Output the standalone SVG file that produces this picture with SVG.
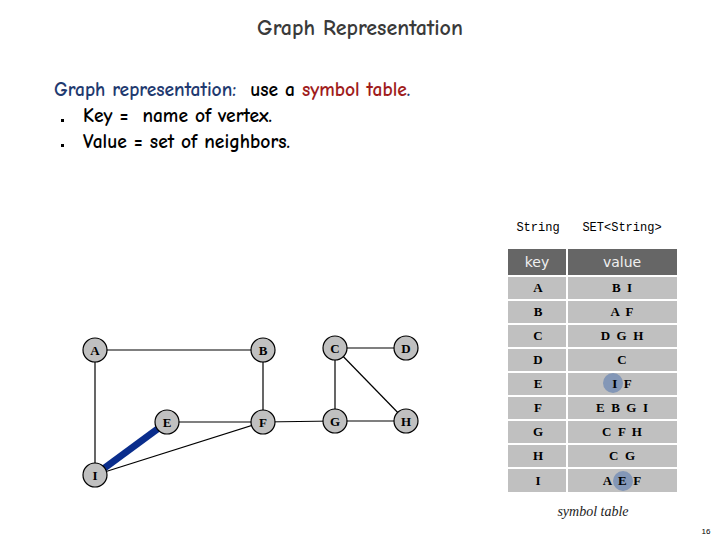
<svg xmlns="http://www.w3.org/2000/svg" width="720" height="540" viewBox="0 0 720 540">
<defs>
<style>
.hand{font-family:"Comic Neue","DejaVu Sans","Liberation Sans",sans-serif}
.node circle{fill:#c0c0c0;stroke:#000;stroke-width:1.2}
.node text{font-family:"Liberation Serif","DejaVu Serif",serif;font-weight:bold;font-size:13px;text-anchor:middle;fill:#000}
.edge{stroke:#000;stroke-width:1.2;fill:none}
.cell{fill:#c0c0c0}
.hdr{fill:#666666}
.tt{font-family:"Liberation Serif","DejaVu Serif",serif;font-weight:bold;font-size:13px;text-anchor:middle;fill:#000}
.th{font-family:"DejaVu Sans","Liberation Sans",sans-serif;font-size:14px;text-anchor:middle;fill:#f0f0f0}
.hl{fill:#5a7bb0;fill-opacity:0.6}
</style>
</defs>
<rect width="720" height="540" fill="#fff"/>
<text class="hand" x="360" y="35" text-anchor="middle" font-size="22" font-weight="bold" fill="#3a3a3a">Graph Representation</text>
<text class="hand" x="54" y="96" font-size="19.5" font-weight="bold" xml:space="preserve"><tspan fill="#1f3a70">Graph representation:</tspan><tspan fill="#000">  use a </tspan><tspan fill="#a01c1c">symbol table</tspan><tspan fill="#1f3a70">.</tspan></text>
<rect x="61" y="119" width="3" height="3" fill="#000"/>
<text class="hand" x="83" y="122" font-size="19.5" font-weight="bold" fill="#000" xml:space="preserve">Key =  name of vertex.</text>
<rect x="61" y="144" width="3" height="3" fill="#000"/>
<text class="hand" x="83" y="148" font-size="19.5" font-weight="bold" fill="#000">Value = set of neighbors.</text>

<g id="connectors">
<line class="edge" x1="95" y1="350" x2="263" y2="350"/>
<line class="edge" x1="95" y1="350" x2="95" y2="475"/>
<line class="edge" x1="263" y1="350" x2="263" y2="422"/>
<line class="edge" x1="167" y1="422" x2="263" y2="422"/>
<line class="edge" x1="263" y1="422" x2="335" y2="421"/>
<line class="edge" x1="95" y1="475" x2="263" y2="422"/>
<line class="edge" x1="335" y1="348" x2="406" y2="348"/>
<line class="edge" x1="335" y1="348" x2="335" y2="421"/>
<line class="edge" x1="335" y1="348" x2="406" y2="421"/>
<line class="edge" x1="335" y1="421" x2="406" y2="421"/>
<line x1="95" y1="475" x2="167" y2="422" stroke="#0a2d8c" stroke-width="7"/>
</g>

<g id="node-A" class="node"><circle cx="95" cy="350" r="12"/><text x="95" y="354.5">A</text></g>
<g id="node-B" class="node"><circle cx="263" cy="350" r="12"/><text x="263" y="354.5">B</text></g>
<g id="node-C" class="node"><circle cx="335" cy="348" r="12"/><text x="335" y="352.5">C</text></g>
<g id="node-D" class="node"><circle cx="406" cy="348" r="12"/><text x="406" y="352.5">D</text></g>
<g id="node-E" class="node"><circle cx="167" cy="422" r="12"/><text x="167" y="426.5">E</text></g>
<g id="node-F" class="node"><circle cx="263" cy="422" r="12"/><text x="263" y="426.5">F</text></g>
<g id="node-G" class="node"><circle cx="335" cy="421" r="12"/><text x="335" y="425.5">G</text></g>
<g id="node-H" class="node"><circle cx="406" cy="421" r="12"/><text x="406" y="425.5">H</text></g>
<g id="node-I" class="node"><circle cx="95" cy="475" r="12"/><text x="95" y="479.5">I</text></g>

<g id="symbol-table">
<text x="538" y="231" font-family="Liberation Mono,monospace" font-size="12" text-anchor="middle">String</text>
<text x="622" y="231" font-family="Liberation Mono,monospace" font-size="12" text-anchor="middle">SET&lt;String&gt;</text>
<rect class="hdr" x="508" y="249" width="58" height="26"/>
<rect class="hdr" x="568" y="249" width="109" height="26"/>
<text class="th" x="537" y="267">key</text>
<text class="th" x="622" y="267">value</text>
<g>
<rect class="cell" x="508" y="277" width="58" height="22"/><rect class="cell" x="568" y="277" width="109" height="22"/>
<rect class="cell" x="508" y="301" width="58" height="22"/><rect class="cell" x="568" y="301" width="109" height="22"/>
<rect class="cell" x="508" y="325" width="58" height="22"/><rect class="cell" x="568" y="325" width="109" height="22"/>
<rect class="cell" x="508" y="349" width="58" height="22"/><rect class="cell" x="568" y="349" width="109" height="22"/>
<rect class="cell" x="508" y="373" width="58" height="22"/><rect class="cell" x="568" y="373" width="109" height="22"/>
<rect class="cell" x="508" y="397" width="58" height="22"/><rect class="cell" x="568" y="397" width="109" height="22"/>
<rect class="cell" x="508" y="421" width="58" height="22"/><rect class="cell" x="568" y="421" width="109" height="22"/>
<rect class="cell" x="508" y="445" width="58" height="22"/><rect class="cell" x="568" y="445" width="109" height="22"/>
<rect class="cell" x="508" y="469" width="58" height="23"/><rect class="cell" x="568" y="469" width="109" height="23"/>
</g>
<circle class="hl" cx="613" cy="383" r="10"/>
<circle class="hl" cx="623" cy="481" r="10"/>
<text class="tt" x="538" y="292">A</text><text class="tt" x="622" y="292" xml:space="preserve">B  I</text>
<text class="tt" x="538" y="316">B</text><text class="tt" x="622" y="316" xml:space="preserve">A  F</text>
<text class="tt" x="538" y="340">C</text><text class="tt" x="622" y="340" xml:space="preserve">D  G  H</text>
<text class="tt" x="538" y="364">D</text><text class="tt" x="622" y="364">C</text>
<text class="tt" x="538" y="388">E</text><text class="tt" x="622" y="388" xml:space="preserve">I  F</text>
<text class="tt" x="538" y="412">F</text><text class="tt" x="622" y="412" xml:space="preserve">E  B  G  I</text>
<text class="tt" x="538" y="436">G</text><text class="tt" x="622" y="436" xml:space="preserve">C  F  H</text>
<text class="tt" x="538" y="460">H</text><text class="tt" x="622" y="460" xml:space="preserve">C  G</text>
<text class="tt" x="538" y="485">I</text><text class="tt" x="622" y="485" xml:space="preserve">A  E  F</text>
<text x="593" y="516" font-family="Liberation Serif,serif" font-style="italic" font-size="14" text-anchor="middle" fill="#222">symbol table</text>
</g>
<text x="706" y="534" font-family="Liberation Sans,sans-serif" font-size="8" text-anchor="middle">16</text>
</svg>
